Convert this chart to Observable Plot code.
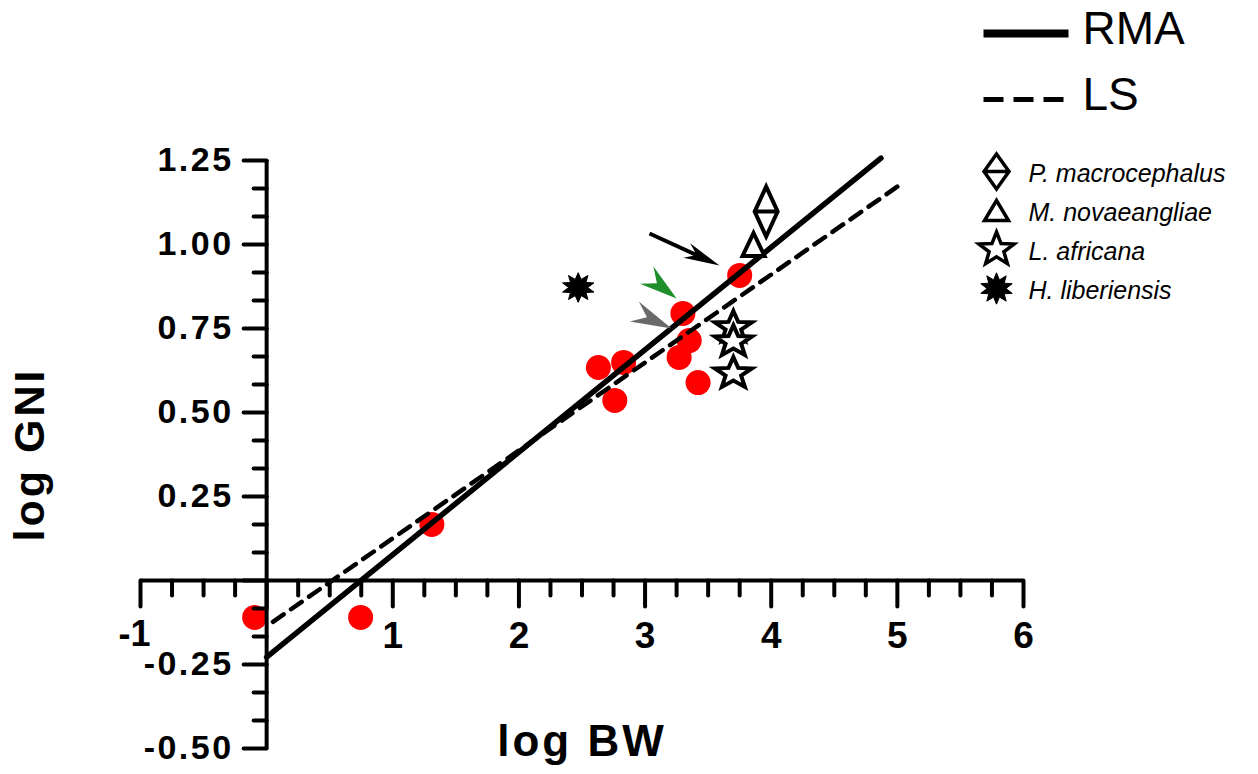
<!DOCTYPE html>
<html><head><meta charset="utf-8">
<script src="https://cdn.jsdelivr.net/npm/d3@7"></script>
<script src="https://cdn.jsdelivr.net/npm/@observablehq/plot@0.6"></script>
<style>
html,body{margin:0;padding:0;background:#fff;}
#wrap{position:relative;width:1258px;height:774px;overflow:hidden;background:#fff;}
#wrap svg{position:absolute;}
</style></head><body><div id="wrap"></div>
<script>
// ---- data ----
const bwRed  = [-0.095, 0.745, 1.31, 2.63, 2.83, 2.76, 3.30, 3.35, 3.27, 3.42, 3.75];
const gniRed = [-0.11, -0.11, 0.167, 0.634, 0.649, 0.536, 0.795, 0.714, 0.664, 0.589, 0.908];
const speciesNames = ["P. macrocephalus", "M. novaeangliae", "L. africana", "H. liberiensis"];
const speciesBW  = [3.96, 3.86, 3.70, 3.70, 3.70, 2.47];
const speciesGNI = [1.098, 1.0, 0.753, 0.711, 0.616, 0.872];
const speciesOf  = [0, 1, 2, 2, 2, 3];
const rmaBW = [0, 4.87],   rmaGNI = [-0.228, 1.257];
const lsBW  = [0.05, 5.03], lsGNI = [-0.123, 1.18];
const xTickLabels = [-1, 1, 2, 3, 4, 5, 6];
const yTickLabels = [-0.5, -0.25, 0.25, 0.5, 0.75, 1.0, 1.25];
const lineLegend = ["RMA", "LS"];
// annotation arrowheads (tip position in data units, screen angle)
const arrowTipBW  = [3.59, 3.25, 3.21];
const arrowTipGNI = [0.9375, 0.839, 0.75];
const arrowAngle  = [114.6, 128, 114.4];
const arrowColor  = ["#000000", "#1f8f2c", "#6a6a6a"];

// ---- shapes ----
function poly(ctx, pts){ctx.moveTo(pts[0][0],pts[0][1]);for(let i=1;i<pts.length;i++)ctx.lineTo(pts[i][0],pts[i][1]);ctx.closePath();}
const diamondLine=(w,h)=>({draw(ctx){poly(ctx,[[0,-h/2],[w/2,0],[0,h/2],[-w/2,0]]);ctx.moveTo(-w/2,0);ctx.lineTo(w/2,0);}});
const triangle=(w,h)=>({draw(ctx){poly(ctx,[[0,-h/2],[w/2,h/2],[-w/2,h/2]]);}});
const star=(rx,ry,k)=>({draw(ctx){const p=[];for(let i=0;i<10;i++){const a=-Math.PI/2+i*Math.PI/5,r=i%2?k:1;p.push([Math.cos(a)*rx*r,Math.sin(a)*ry*r]);}poly(ctx,p);}});
const burst=(ro,ri,n,sy)=>({draw(ctx){const p=[];for(let i=0;i<2*n;i++){const a=-Math.PI/2+i*Math.PI/n,r=i%2?ri:ro;p.push([Math.cos(a)*r,Math.sin(a)*r*sy]);}poly(ctx,p);}});
const tickShape={draw(ctx,l){ctx.moveTo(0,0);ctx.lineTo(0,-l);}};
function arrowShape(head,halfW,notch,shaftW){return {draw(ctx,l){const t=-l;ctx.moveTo(0,t);ctx.lineTo(halfW,t+head);ctx.lineTo(0,t+head-notch);ctx.lineTo(-halfW,t+head);ctx.closePath();if(shaftW){ctx.rect(-shaftW/2,t+head-notch-1,shaftW,l-head+notch+1);}}};}

const FONT = "Liberation Sans, Arial, Helvetica, sans-serif";
const xMajor = d3.range(-1, 6.001, 1);
const xMinor = d3.range(-1, 6.001, 0.25).filter(v => Math.abs(v - Math.round(v)) > 1e-6);
const yMajor = d3.range(-6, 16, 3).map(k => k * 0.25 / 3);
const yMinor = d3.range(-6, 16).filter(k => k % 3 !== 0).map(k => k * 0.25 / 3);
const idx = d3.range(bwRed.length);
const sIdx = d3.range(speciesBW.length);
const mainSym = [diamondLine(23, 50), triangle(22, 23), star(19.5, 16.5, 0.42), burst(16.5, 9.5, 10, 0.9)];
const legSym  = [diamondLine(25, 35), triangle(24, 20), star(18.5, 17.5, 0.42), burst(16.5, 9.5, 10, 0.95)];

const speciesMarks = [0,1,2,3].map(s => Plot.dot(sIdx.filter(i => speciesOf[i] === s), {
  x: i => speciesBW[i], y: i => speciesGNI[i], symbol: mainSym[s],
  fill: s === 3 ? "black" : "white", stroke: "black", strokeWidth: s === 3 ? 1 : 4, strokeLinejoin: "miter"
}));

const arrowShapes = [arrowShape(36, 8, 11, 4), arrowShape(38, 11, 13, 0), arrowShape(41, 11, 14, 0)];
const arrowLengths = [77, 38, 41];
const arrowMarks = [0,1,2].map(a => Plot.vector([a], {
  x: i => arrowTipBW[i], y: i => arrowTipGNI[i], rotate: i => arrowAngle[i],
  length: arrowLengths[a], anchor: "end", shape: arrowShapes[a],
  fill: arrowColor[a], stroke: "none"
}));

const main = Plot.plot({
  width: 1258, height: 774,
  marginLeft: 140, marginRight: 235, marginTop: 160, marginBottom: 26,
  x: {domain: [-1, 6], axis: null},
  y: {domain: [-0.5, 1.25], axis: null},
  style: {background: "white", overflow: "visible"},
  marks: [
    Plot.dot(idx, {x: i => bwRed[i], y: i => gniRed[i], r: 12.5, fill: "#ff0000"}),
    Plot.ruleY([0], {x1: -1, x2: 6, stroke: "black", strokeWidth: 4}),
    Plot.ruleX([0], {y1: -0.5, y2: 1.25, stroke: "black", strokeWidth: 4}),
    Plot.vector(xMajor, {x: d => d, y: 0, rotate: 180, length: 26, anchor: "start", shape: tickShape, stroke: "black", strokeWidth: 4}),
    Plot.vector(xMinor, {x: d => d, y: 0, rotate: 180, length: 15, anchor: "start", shape: tickShape, stroke: "black", strokeWidth: 4}),
    Plot.vector(yMajor, {x: 0, y: d => d, rotate: 270, length: 23, anchor: "start", shape: tickShape, stroke: "black", strokeWidth: 4}),
    Plot.vector(yMinor, {x: 0, y: d => d, rotate: 270, length: 13, anchor: "start", shape: tickShape, stroke: "black", strokeWidth: 4}),
    Plot.line(d3.range(2), {x: i => rmaBW[i], y: i => rmaGNI[i], stroke: "black", strokeWidth: 5.5}),
    Plot.line(d3.range(2), {x: i => lsBW[i], y: i => lsGNI[i], stroke: "black", strokeWidth: 4.5, strokeDasharray: "13,9"}),
    ...speciesMarks,
    ...arrowMarks,
    Plot.text(xTickLabels.filter(d => d >= 0), {x: d => d, y: 0, dy: 56, text: d => String(d), fontSize: 37, fontWeight: "bold", fontFamily: FONT, fill: "black"}),
    Plot.text(xTickLabels.filter(d => d < 0), {x: d => d, y: 0, dy: 54, dx: -6, text: d => String(d), fontSize: 36, fontWeight: "bold", fontFamily: FONT, fill: "black"}),
    Plot.text(yTickLabels, {x: 0, y: d => d, dx: -33, text: d => d.toFixed(2), textAnchor: "end", fontSize: 34, fontWeight: "bold", fontFamily: FONT, fill: "black"}),
    Plot.text(["log BW"], {frameAnchor: "bottom", textAnchor: "middle", lineAnchor: "middle", dy: -7, text: d => d, fontSize: 44, fontWeight: "bold", fontFamily: FONT, fill: "black"}),
    Plot.text(["log GNI"], {frameAnchor: "left", textAnchor: "middle", lineAnchor: "middle", dx: -110, rotate: -90, text: d => d, fontSize: 43, fontWeight: "bold", fontFamily: FONT, fill: "black"})
  ]
});
main.style.left = "0px"; main.style.top = "0px";
document.getElementById("wrap").appendChild(main);
// letter spacing to mimic the wide lettering of the original
d3.select(main).selectAll("text").each(function(){
  const t = this.textContent;
  if (t === "log BW" || t === "log GNI") this.setAttribute("letter-spacing", "3");
  else if (/^-?\d\.\d\d$/.test(t)) this.setAttribute("letter-spacing", "2.5");
});

const leg1 = Plot.plot({
  width: 298, height: 140, margin: 0,
  x: {domain: [0, 1], range: [23, 108], axis: null},
  y: {type: "point", domain: lineLegend, range: [33, 99], padding: 0, axis: null},
  style: {background: "transparent", overflow: "visible"},
  marks: [
    Plot.link(["RMA"], {x1: 0, x2: 1, y1: d => d, y2: d => d, stroke: "black", strokeWidth: 8}),
    Plot.link(["LS"], {x1: 0, x2: 1, y1: d => d, y2: d => d, stroke: "black", strokeWidth: 5, strokeDasharray: "20,10"}),
    Plot.text(lineLegend, {x: 1, y: d => d, dx: 14, dy: -4, text: d => d, textAnchor: "start", fontSize: 46, fontFamily: FONT, fill: "black"})
  ]
});
leg1.style.left = "960px"; leg1.style.top = "0px";
document.getElementById("wrap").appendChild(leg1);

const leg2 = Plot.plot({
  width: 298, height: 170, margin: 0,
  x: {domain: [0, 1], range: [36, 68], axis: null},
  y: {type: "point", domain: speciesNames, range: [20, 138], padding: 0, axis: null},
  style: {background: "transparent", overflow: "visible"},
  marks: [
    ...[0,1,2,3].map(s => Plot.dot([speciesNames[s]], {x: 0, y: d => d, symbol: legSym[s],
      fill: s === 3 ? "black" : "white", stroke: "black", strokeWidth: s === 3 ? 1 : 3.5, strokeLinejoin: "miter"})),
    Plot.text(speciesNames, {x: 1, y: d => d, dy: 2, text: d => d, textAnchor: "start", fontSize: 25, fontStyle: "italic", fontFamily: FONT, fill: "black"})
  ]
});
leg2.style.left = "960px"; leg2.style.top = "150px";
document.getElementById("wrap").appendChild(leg2);
</script></body></html>
